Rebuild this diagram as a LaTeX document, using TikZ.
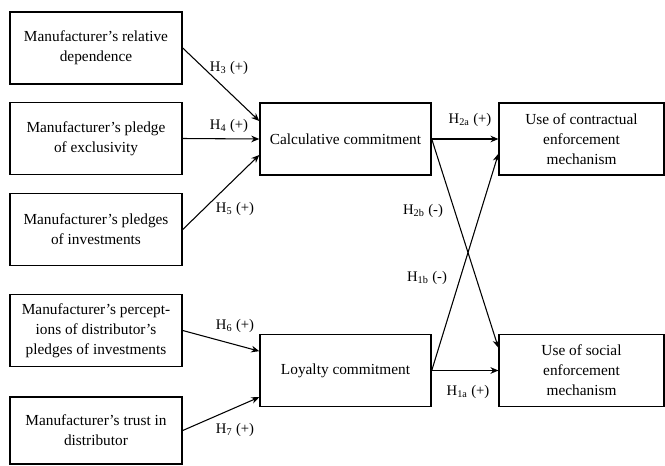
\documentclass[tikz,border=0pt]{standalone}
\usepackage{fontspec}
\setmainfont{Liberation Serif}
\usetikzlibrary{arrows.meta}

\tikzset{
    factor/.style={draw, line width=1.1pt, align=center, inner sep=2pt,
        minimum width=129pt, minimum height=54pt,
        font=\fontsize{11.5}{15}\selectfont},
    outcome/.style={factor, minimum width=123.5pt},
    link/.style={-{Stealth[length=6pt,width=5pt]}, line width=0.8pt},
    hyp/.style={font=\fontsize{11}{13}\selectfont, inner sep=1pt}
}

\begin{document}
\begin{tikzpicture}[x=0.75pt,y=-0.75pt]
    \useasboundingbox (0,0) rectangle (665,465);

    % antecedents
    \node[factor] (dep) at (96,48) {Manufacturer's relative\\dependence};
    \node[factor] (excl) at (96,138.5) {Manufacturer's pledge\\of exclusivity};
    \node[factor] (inv) at (96,229.5) {Manufacturer's pledges\\of investments};
    \node[factor] (perc) at (96,330.5) {Manufacturer's percept-\\ions of distributor's\\pledges of investments};
    \node[factor, minimum height=50pt] (trust) at (96,430.5) {Manufacturer's trust in\\distributor};

    % commitments
    \node[factor, minimum width=128.25pt] (calc) at (345.5,139) {Calculative commitment};
    \node[factor, minimum width=128.25pt] (loyal) at (345.5,370.5) {Loyalty commitment};

    % outcomes
    \node[outcome] (contr) at (581.5,139) {Use of contractual\\enforcement\\mechanism};
    \node[outcome] (social) at (581.5,370.5) {Use of social\\enforcement\\mechanism};

    \draw[link] (dep.east) -- ([yshift=13.5pt]calc.west);
    \draw[link] (excl.east) -- (calc.west);
    \draw[link] (inv.east) -- ([yshift=-12pt]calc.west);
    \draw[link] (perc.east) -- ([yshift=14.5pt]loyal.west);
    \draw[link] (trust.east) -- ([yshift=-20pt]loyal.west);
    \draw[link] (calc.east) -- (contr.west);
    \draw[link] (calc.east) -- ([yshift=17pt]social.west);
    \draw[link] (loyal.east) -- ([yshift=-11pt]contr.west);
    \draw[link] (loyal.east) -- (social.west);

    \node[hyp] (h3) at (229,68) {H\textsubscript{3} (+)};
    \node[hyp] (h4) at (229,126) {H\textsubscript{4} (+)};
    \node[hyp] (h5) at (235,209) {H\textsubscript{5} (+)};
    \node[hyp] (h6) at (235,326) {H\textsubscript{6} (+)};
    \node[hyp] (h7) at (235,430) {H\textsubscript{7} (+)};
    \node[hyp] (h2a) at (470,120) {H\textsubscript{2a} (+)};
    \node[hyp] (h2b) at (423,211) {H\textsubscript{2b} (-)};
    \node[hyp] (h1b) at (427,278) {H\textsubscript{1b} (-)};
    \node[hyp] (h1a) at (468,392) {H\textsubscript{1a} (+)};
\end{tikzpicture}
\end{document}
